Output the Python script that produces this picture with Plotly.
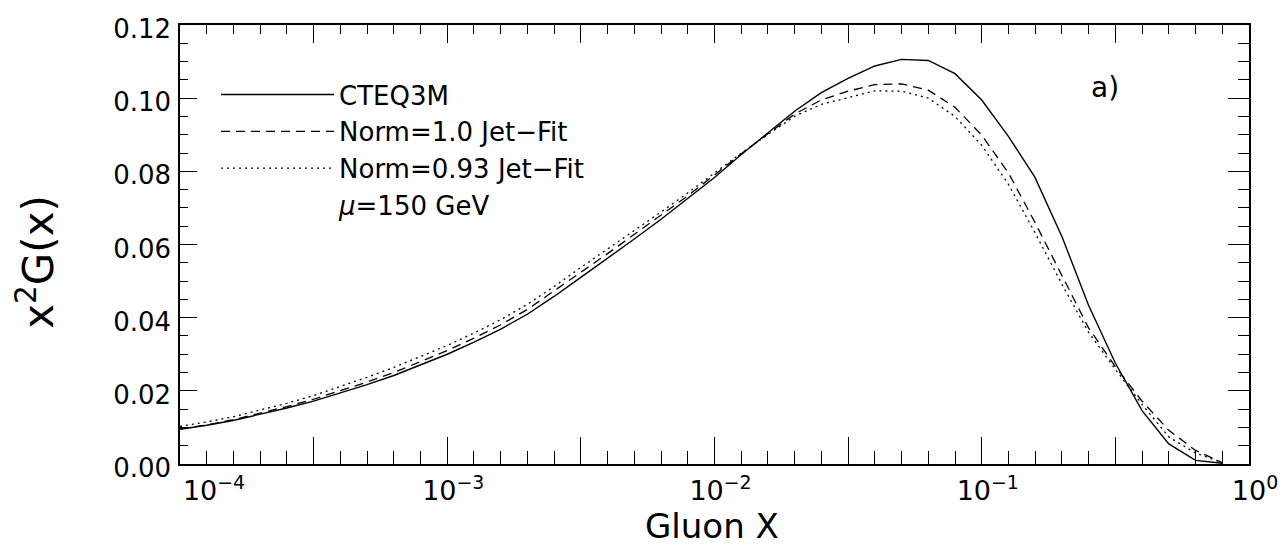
import plotly.graph_objects as go

# ---------------- data ----------------
X = [1.00e-4, 1.26e-4, 1.58e-4, 2.00e-4, 2.51e-4, 3.16e-4, 3.98e-4, 5.01e-4, 6.31e-4, 7.94e-4,
     1.00e-3, 1.26e-3, 1.58e-3, 2.00e-3, 2.51e-3, 3.16e-3, 3.98e-3, 5.01e-3, 6.31e-3, 7.94e-3,
     1.00e-2, 1.26e-2, 1.58e-2, 2.00e-2, 2.51e-2, 3.16e-2, 3.98e-2, 5.01e-2, 6.31e-2, 7.94e-2,
     1.00e-1, 1.26e-1, 1.58e-1, 2.00e-1, 2.51e-1, 3.16e-1, 3.98e-1, 5.01e-1, 6.31e-1, 7.94e-1]

CTEQ3M = [0.0095, 0.0106, 0.0119, 0.0136, 0.0153, 0.0172, 0.0194, 0.0217, 0.0242, 0.0270,
          0.0300, 0.0333, 0.0368, 0.0410, 0.0458, 0.0510, 0.0562, 0.0615, 0.0669, 0.0725,
          0.0783, 0.0846, 0.0905, 0.0965, 0.1015, 0.1054, 0.1088, 0.1106, 0.1103, 0.1067,
          0.0995, 0.0895, 0.0784, 0.0620, 0.0434, 0.0276, 0.0146, 0.0055, 0.0010, 0.0002]

NORM_10 = [0.0096, 0.0107, 0.0121, 0.0139, 0.0157, 0.0177, 0.0200, 0.0224, 0.0250, 0.0279,
           0.0310, 0.0344, 0.0380, 0.0423, 0.0472, 0.0524, 0.0575, 0.0627, 0.0679, 0.0733,
           0.0790, 0.0848, 0.0902, 0.0957, 0.0995, 0.1019, 0.1037, 0.1039, 0.1022, 0.0975,
           0.0899, 0.0795, 0.0661, 0.0513, 0.0372, 0.0266, 0.0172, 0.0092, 0.0037, 0.0004]

NORM_093 = [0.0103, 0.0115, 0.0129, 0.0147, 0.0166, 0.0187, 0.0211, 0.0237, 0.0264, 0.0293,
            0.0324, 0.0358, 0.0394, 0.0437, 0.0485, 0.0537, 0.0587, 0.0638, 0.0689, 0.0741,
            0.0796, 0.0850, 0.0900, 0.0951, 0.0983, 0.1002, 0.1020, 0.1019, 0.1000, 0.0950,
            0.0871, 0.0764, 0.0633, 0.0490, 0.0360, 0.0259, 0.0163, 0.0074, 0.0030, 0.0004]

SERIES_NAMES = ["CTEQ3M", "Norm=1.0 Jet\u2212Fit", "Norm=0.93 Jet\u2212Fit"]
NOTE_TEXT = "<i>\u03bc</i>=150 GeV"
PANEL_TEXT = "a)"
X_TITLE = "Gluon X"
Y_TITLE = "x<sup>2</sup>G(x)"

# x-axis labels at whole decades; tick marks every half decade (major) and tenth of a decade (minor)
X_FIRST_LABEL_VAL = [1e-4]
X_FIRST_LABEL_TEXT = ["10<sup>\u22124</sup>"]
X_LABEL_VALS = [1e-3, 1e-2, 1e-1, 1.0]
X_LABEL_TEXT = ["10<sup>\u22123</sup>", "10<sup>\u22122</sup>", "10<sup>\u22121</sup>", "10<sup>0</sup>"]
X_MAJOR = [1e-4, 3.162e-4, 1e-3, 3.162e-3, 1e-2, 3.162e-2, 1e-1, 3.162e-1, 1.0]
X_MINOR = [1.259e-4, 1.585e-4, 1.995e-4, 2.512e-4, 3.981e-4, 5.012e-4, 6.310e-4, 7.943e-4,
           1.259e-3, 1.585e-3, 1.995e-3, 2.512e-3, 3.981e-3, 5.012e-3, 6.310e-3, 7.943e-3,
           1.259e-2, 1.585e-2, 1.995e-2, 2.512e-2, 3.981e-2, 5.012e-2, 6.310e-2, 7.943e-2,
           1.259e-1, 1.585e-1, 1.995e-1, 2.512e-1, 3.981e-1, 5.012e-1, 6.310e-1, 7.943e-1]
Y_RANGE = [0.0, 0.12]

FONT = "DejaVu Sans"
INK = "black"

fig = go.Figure()

fig.add_trace(go.Scatter(x=X, y=CTEQ3M, mode="lines", name=SERIES_NAMES[0],
                         line=dict(color=INK, width=1.4)))
fig.add_trace(go.Scatter(x=X, y=NORM_10, mode="lines", name=SERIES_NAMES[1],
                         line=dict(color=INK, width=1.3, dash="9px,6px")))
fig.add_trace(go.Scatter(x=X, y=NORM_093, mode="lines", name=SERIES_NAMES[2],
                         line=dict(color=INK, width=1.3, dash="2px,4px")))
# text-only legend entry
fig.add_trace(go.Scatter(x=[None], y=[None], mode="lines", name=NOTE_TEXT,
                         line=dict(color="rgba(0,0,0,0)", width=0)))
# invisible traces to carry the extra axes
for xa, ya in (("x2", "y2"), ("x3", "y"), ("x4", "y")):
    fig.add_trace(go.Scatter(x=X, y=CTEQ3M, mode="lines", xaxis=xa, yaxis=ya,
                             showlegend=False, hoverinfo="skip",
                             line=dict(color="rgba(0,0,0,0)", width=0)))

axis_common = dict(showline=True, linecolor=INK, linewidth=1.5, showgrid=False,
                   zeroline=False, tickcolor=INK, tickwidth=1.3, automargin=False)
xlabel_font = dict(family=FONT, size=27, color=INK)

fig.update_layout(
    width=1283, height=546,
    margin=dict(l=180, r=34, t=25, b=82),
    paper_bgcolor="white", plot_bgcolor="white",
    font=dict(family=FONT, color=INK),
    showlegend=True,
    legend=dict(x=0.0337, y=0.895, xanchor="left", yanchor="top",
                bgcolor="rgba(0,0,0,0)", borderwidth=0, itemwidth=113,
                font=dict(family=FONT, size=26, color=INK), tracegroupgap=0,
                itemclick=False, itemdoubleclick=False),
    # labelled bottom axis (labels only)
    xaxis=dict(type="log", range=[-4, 0], side="bottom", ticks="",
               tickmode="array", tickvals=X_LABEL_VALS, ticktext=X_LABEL_TEXT,
               tickfont=xlabel_font, ticklabelstandoff=2, ticklabelshift=6,
               **axis_common),
    # first label, kept inside the frame like the original
    xaxis4=dict(type="log", range=[-4, 0], overlaying="x", side="bottom", anchor="y",
                ticks="", tickmode="array", tickvals=X_FIRST_LABEL_VAL,
                ticktext=X_FIRST_LABEL_TEXT, tickfont=xlabel_font,
                ticklabelstandoff=2, ticklabelshift=34, **axis_common),
    # bottom tick marks
    xaxis3=dict(type="log", range=[-4, 0], overlaying="x", side="bottom", anchor="y",
                ticks="inside", ticklen=27, tickmode="array", tickvals=X_MAJOR,
                showticklabels=False,
                minor=dict(tickmode="array", tickvals=X_MINOR, ticks="inside", ticklen=13,
                           tickcolor=INK, tickwidth=1.3),
                **axis_common),
    # top tick marks
    xaxis2=dict(type="log", range=[-4, 0], overlaying="x", side="top", anchor="y",
                ticks="inside", ticklen=18, tickmode="array", tickvals=X_MAJOR,
                showticklabels=False,
                minor=dict(tickmode="array", tickvals=X_MINOR, ticks="inside", ticklen=9,
                           tickcolor=INK, tickwidth=1.3),
                **axis_common),
    yaxis=dict(range=Y_RANGE, side="left", ticks="inside", ticklen=17, dtick=0.02,
               tickformat=".2f", tickfont=dict(family=FONT, size=26, color=INK),
               ticklabelstandoff=2, ticklabelshift=4,
               minor=dict(dtick=0.005, ticks="inside", ticklen=8, tickcolor=INK, tickwidth=1.3),
               **axis_common),
    yaxis2=dict(range=Y_RANGE, overlaying="y", side="right", anchor="x",
                ticks="inside", ticklen=21, dtick=0.02, showticklabels=False,
                minor=dict(dtick=0.005, ticks="inside", ticklen=11, tickcolor=INK, tickwidth=1.3),
                **axis_common),
    annotations=[
        dict(text=X_TITLE, xref="paper", yref="paper", x=0.498, y=-0.1845,
             xanchor="center", yanchor="bottom", showarrow=False, height=35,
             font=dict(family=FONT, size=34, color=INK)),
        dict(text=Y_TITLE, xref="paper", yref="paper", x=-0.135, y=0.46,
             xanchor="center", yanchor="middle", textangle=-90, showarrow=False,
             font=dict(family=FONT, size=42, color=INK)),
        dict(text=PANEL_TEXT, xref="paper", yref="paper", x=0.865, y=0.8565,
             xanchor="center", yanchor="middle", showarrow=False,
             font=dict(family=FONT, size=28, color=INK)),
    ],
)

fig.write_html("out.html")
